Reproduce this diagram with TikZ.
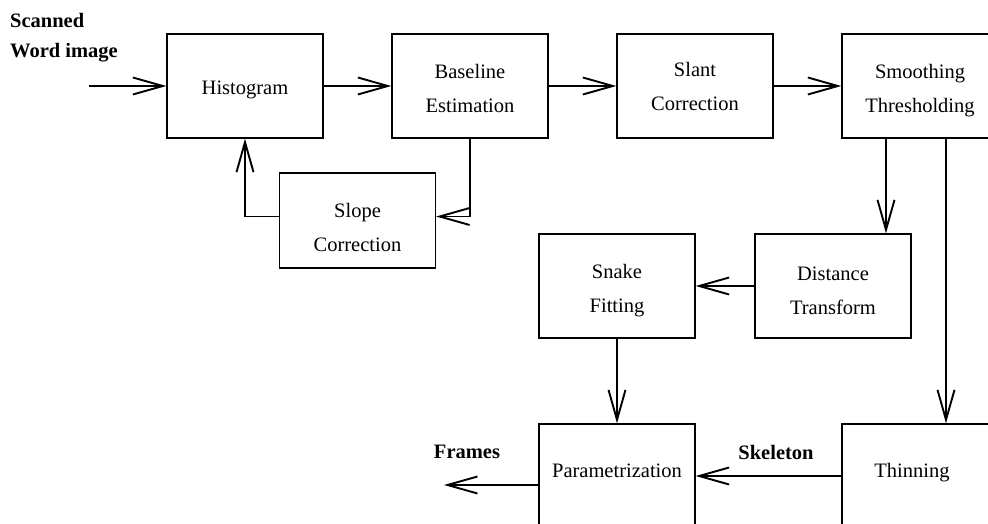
\documentclass[tikz,border=0pt]{standalone}
\usepackage{fontspec}
\setmainfont{Liberation Serif}
\usetikzlibrary{arrows.meta}
\begin{document}
\begin{tikzpicture}[x=1pt,y=-1pt,
  box/.style={draw, line width=1.3pt, minimum width=156pt, minimum height=104pt, inner sep=0pt},
  txt/.style={inner sep=0pt, align=center, font=\fontsize{20.5}{34}\selectfont},
  arr/.style={line width=1.9pt, -{Straight Barb[length=30pt,width=17pt]}},
  lbl/.style={font=\fontsize{20.5}{24}\selectfont\bfseries, inner sep=0pt}]
\useasboundingbox (0,0) rectangle (988,524);
\clip (0,0) rectangle (988,524);
\node[box] (hist) at (245,86) {};
\node[box] (base) at (470,86) {};
\node[box] (slant) at (695,86) {};
\node[box] (smooth) at (920,86) {};
\node[box, minimum height=95pt] (slope) at (357.5,220.5) {};
\node[box] (snake) at (617,286) {};
\node[box] (dist) at (833,286) {};
\node[box] (param) at (617,476) {};
\node[box] (thin) at (920,476) {};
\node[txt] (histT) at (245,90) {Histogram};
\node[txt] (baseT) at (470,88) {Baseline\\Estimation};
\node[txt] (slantT) at (695,86) {Slant\\Correction};
\node[txt] (smoothT) at (920,91) {Smoothing\\Thresholding};
\node[txt] (slopeT) at (357.5,227) {Slope\\Correction};
\node[txt] (snakeT) at (617,291) {Snake\\Fitting};
\node[txt] (distT) at (833,291) {Distance\\Transform};
\node[txt] (paramT) at (617,471) {Parametrization};
\node[txt] (thinT) at (912,473) {Thinning};
\node[lbl, anchor=west] (scan) at (10,20) {Scanned};
\node[lbl, anchor=west] (word) at (10,53) {Word image};
\node[lbl] (frames) at (467,452) {Frames};
\node[lbl] (skel) at (776,452) {Skeleton};
\coordinate (in) at (89,86);
\coordinate (out) at (444,485);
\draw[arr] (in) -- (hist.west);
\draw[arr] (hist) -- (base);
\draw[arr] (base) -- (slant);
\draw[arr] (slant) -- (smooth);
\draw[arr] (base.south) |- ([yshift=4pt]slope.east);
\draw[arr] ([yshift=4pt]slope.west) -| (hist.south);
\draw[arr] ([xshift=-34pt]smooth.south) -- ([xshift=-34pt]smooth.south |- dist.north);
\draw[arr] ([xshift=26pt]smooth.south) -- ([xshift=26pt]thin.north);
\draw[arr] (dist) -- (snake);
\draw[arr] (snake) -- (param);
\draw[arr] (thin) -- (param);
\draw[arr] (param.west |- out) -- (out);
\end{tikzpicture}
\end{document}
